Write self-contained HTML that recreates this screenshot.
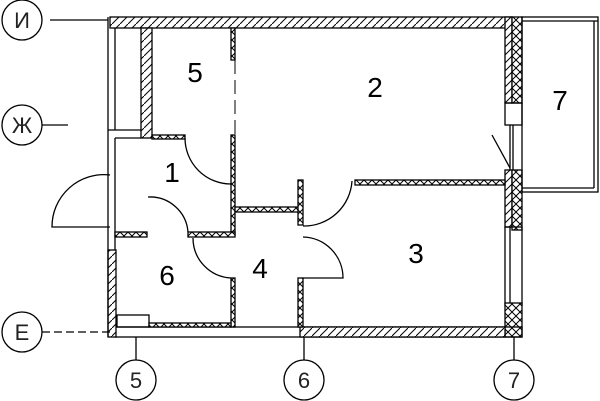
<!DOCTYPE html>
<html><head><style>body{margin:0;background:#fff}svg{display:block}text{font-family:"Liberation Sans",sans-serif}</style></head><body>
<svg width="600" height="401" viewBox="0 0 600 401" xmlns="http://www.w3.org/2000/svg">
<defs>
<pattern id="h" width="8" height="8" patternUnits="userSpaceOnUse"><rect width="8" height="8" fill="#fff"/><path d="M0 8 L8 0" stroke="#000" stroke-width="1"/></pattern>
<pattern id="x" width="8" height="8" patternUnits="userSpaceOnUse"><rect width="8" height="8" fill="#fff"/><path d="M0 0 L8 8 M0 8 L8 0" stroke="#000" stroke-width="1"/></pattern>
</defs>
<g stroke="#000" stroke-width="1.3" fill="none">
<rect x="110" y="17" width="402" height="11" fill="url(#h)"/>
<rect x="141" y="28" width="11" height="110" fill="url(#h)"/>
<rect x="505" y="17" width="7" height="86" fill="url(#h)"/>
<rect x="512" y="17" width="10" height="86" fill="url(#x)"/>
<rect x="505" y="103" width="17" height="22"/>
<line x1="510" y1="125" x2="510" y2="170"/><line x1="513" y1="125" x2="513" y2="170"/>
<line x1="492" y1="135" x2="510" y2="168"/>
<rect x="505" y="170" width="7" height="57" fill="url(#h)"/>
<rect x="512" y="170" width="10" height="60" fill="url(#x)"/>
<rect x="505" y="227" width="17" height="78"/>
<line x1="510" y1="227" x2="510" y2="305"/>
<rect x="505" y="303" width="17" height="34" fill="url(#x)"/>
<rect x="115" y="327" width="407" height="10"/>
<rect x="300" y="327" width="205" height="10" fill="url(#h)"/>
<rect x="108" y="250" width="8" height="87" fill="url(#h)"/>
<line x1="108" y1="17" x2="108" y2="337"/>
<line x1="115" y1="28" x2="115" y2="130"/>
<line x1="108" y1="130" x2="141" y2="130"/>
<line x1="115" y1="138" x2="141" y2="138"/>
<line x1="115" y1="138" x2="115" y2="250"/>
<rect x="117" y="315" width="32" height="12"/>
<rect x="522" y="17" width="76" height="175"/>
<line x1="522" y1="21" x2="598" y2="21"/>
<line x1="594" y1="21" x2="594" y2="188"/><line x1="522" y1="188" x2="594" y2="188"/>
<rect x="152" y="135" width="33" height="4" fill="url(#x)"/>
<rect x="231" y="28" width="4" height="32" fill="url(#x)"/>
<line x1="235" y1="60" x2="235" y2="135" stroke-dasharray="14 6" stroke-width="1"/>
<rect x="231" y="135" width="4" height="100" fill="url(#x)"/>
<rect x="235" y="207" width="65" height="5" fill="url(#x)"/>
<rect x="298" y="180" width="5" height="45" fill="url(#x)"/>
<rect x="355" y="180" width="150" height="5" fill="url(#x)"/>
<rect x="298" y="278" width="5" height="49" fill="url(#x)"/>
<rect x="115" y="232" width="32" height="5" fill="url(#x)"/>
<rect x="188" y="232" width="47" height="5" fill="url(#x)"/>
<rect x="231" y="278" width="4" height="49" fill="url(#x)"/>
<rect x="149" y="323" width="82" height="4" fill="url(#x)"/>
<path d="M110 175 A52 52 0 0 0 52 227 L110 227"/>
<path d="M185 138 A46 46 0 0 0 231 184"/>
<path d="M148 197 A38 38 0 0 1 188 232"/>
<path d="M193 238 A40 40 0 0 0 231 278"/>
<path d="M303 226 A48 48 0 0 0 352 181"/>
<path d="M303 237 A41 41 0 0 1 343 278 L303 278"/>
<circle cx="22" cy="20" r="20"/><line x1="50" y1="20" x2="108" y2="20"/>
<circle cx="22" cy="125" r="20"/><line x1="42" y1="125" x2="68" y2="125"/>
<circle cx="22" cy="332" r="20"/><line x1="42" y1="332" x2="110" y2="332" stroke-dasharray="8 4"/>
<circle cx="136" cy="380" r="20"/><line x1="136" y1="337" x2="136" y2="360"/>
<circle cx="304" cy="380" r="20"/><line x1="304" y1="337" x2="304" y2="360"/>
<circle cx="514" cy="380" r="20"/><line x1="514" y1="337" x2="514" y2="360"/>
</g>
<g font-size="28" text-anchor="middle">
<text x="195" y="82">5</text><text x="375" y="97">2</text><text x="560" y="110">7</text>
<text x="172" y="182">1</text><text x="416" y="263">3</text><text x="167" y="285">6</text><text x="260" y="278">4</text>
</g>
<g font-size="22" text-anchor="middle" fill="#222">
<text x="22" y="28">И</text><text x="22" y="133">Ж</text><text x="22" y="340">Е</text>
<text x="136" y="388">5</text><text x="304" y="388">6</text><text x="514" y="388">7</text>
</g>
</svg>
</body></html>
